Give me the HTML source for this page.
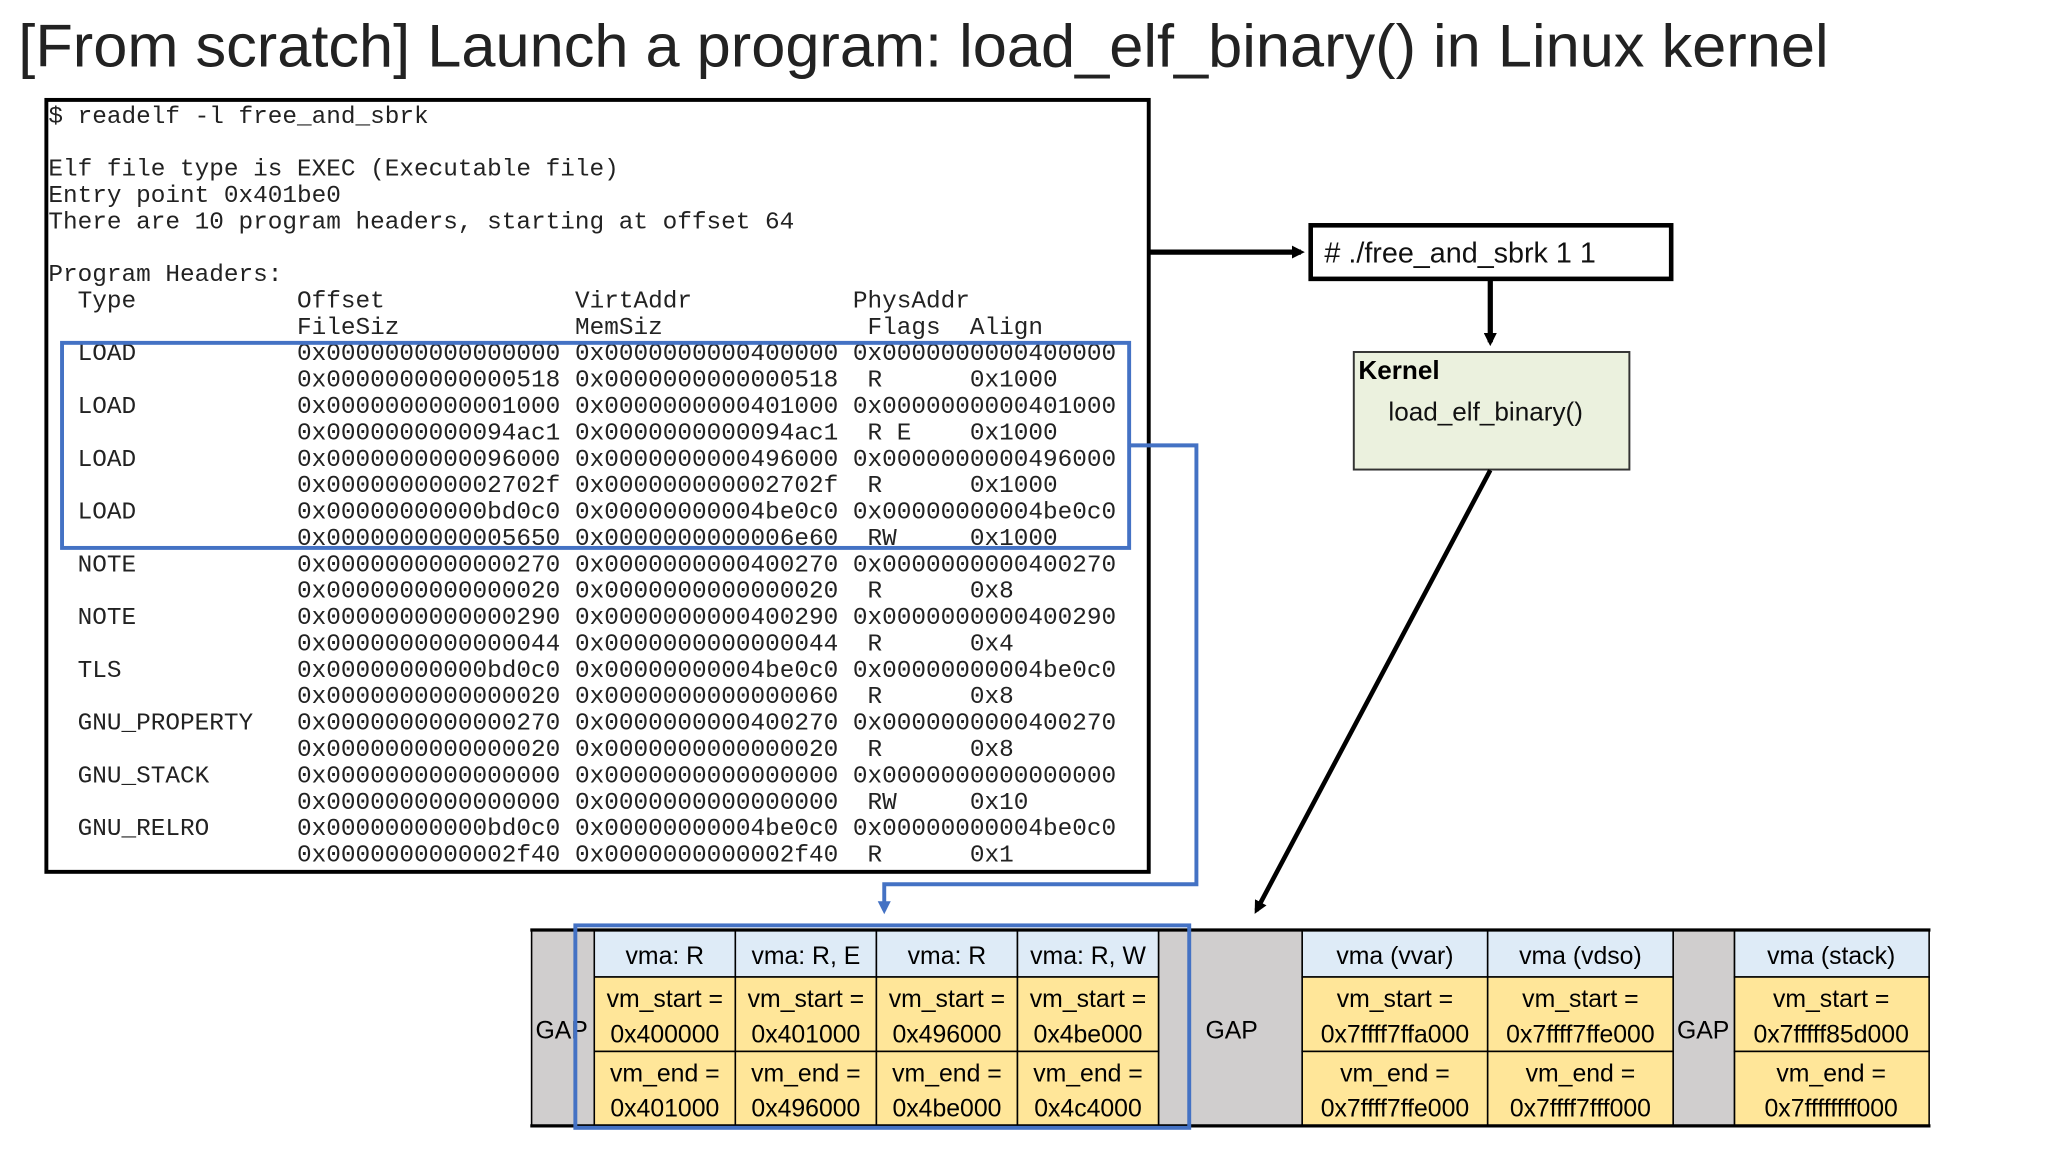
<!DOCTYPE html>
<html><head><meta charset="utf-8"><style>
html,body{margin:0;padding:0;background:#fff;}
svg{display:block;}
.m{font-family:"Liberation Mono",monospace;font-size:18.67px;fill:#222;}
.s{font-family:"Liberation Sans",sans-serif;}
.c{font-family:"Liberation Sans",sans-serif;font-size:19px;fill:#000;text-anchor:middle;}
</style></head><body>
<svg width="2048" height="1152" viewBox="0 0 1568 882" xmlns="http://www.w3.org/2000/svg">
<defs>
<marker id="ab" markerWidth="10" markerHeight="10" refX="7" refY="5" orient="auto" markerUnits="userSpaceOnUse" viewBox="0 0 10 10"><path d="M0,0 L10,5 L0,10 z" fill="#000"/></marker>
<marker id="abl" markerWidth="10" markerHeight="10" refX="7" refY="5" orient="auto" markerUnits="userSpaceOnUse" viewBox="0 0 10 10"><path d="M0,0 L10,5 L0,10 z" fill="#4472C4"/></marker>
</defs>
<text x="14" y="51" class="s" font-size="46" fill="#222" textLength="1386" lengthAdjust="spacingAndGlyphs">[From scratch] Launch a program: load_elf_binary() in Linux kernel</text>

<rect x="35.5" y="76.5" width="844" height="591" fill="#fff" stroke="#000" stroke-width="3"/>
<g class="m">
<text x="37" y="94">$ readelf -l free_and_sbrk</text>
<text x="37" y="134.4">Elf file type is EXEC (Executable file)</text>
<text x="37" y="154.6">Entry point 0x401be0</text>
<text x="37" y="174.8">There are 10 program headers, starting at offset 64</text>
<text x="37" y="215.2">Program Headers:</text>
<text x="59.4" y="235.4">Type</text><text x="227.4" y="235.4">Offset</text><text x="440.2" y="235.4">VirtAddr</text><text x="653" y="235.4">PhysAddr</text>
<text x="227.4" y="255.6">FileSiz</text><text x="440.2" y="255.6">MemSiz</text><text x="664.2" y="255.6">Flags</text><text x="742.6" y="255.6">Align</text>

<text x="59.4" y="275.8">LOAD</text><text x="227.4" y="275.8">0x0000000000000000</text><text x="440.2" y="275.8">0x0000000000400000</text><text x="653" y="275.8">0x0000000000400000</text>
<text x="227.4" y="296">0x0000000000000518</text><text x="440.2" y="296">0x0000000000000518</text><text x="664.2" y="296">R</text><text x="742.6" y="296">0x1000</text>
<text x="59.4" y="316.2">LOAD</text><text x="227.4" y="316.2">0x0000000000001000</text><text x="440.2" y="316.2">0x0000000000401000</text><text x="653" y="316.2">0x0000000000401000</text>
<text x="227.4" y="336.4">0x0000000000094ac1</text><text x="440.2" y="336.4">0x0000000000094ac1</text><text x="664.2" y="336.4">R E</text><text x="742.6" y="336.4">0x1000</text>
<text x="59.4" y="356.6">LOAD</text><text x="227.4" y="356.6">0x0000000000096000</text><text x="440.2" y="356.6">0x0000000000496000</text><text x="653" y="356.6">0x0000000000496000</text>
<text x="227.4" y="376.8">0x000000000002702f</text><text x="440.2" y="376.8">0x000000000002702f</text><text x="664.2" y="376.8">R</text><text x="742.6" y="376.8">0x1000</text>
<text x="59.4" y="397">LOAD</text><text x="227.4" y="397">0x00000000000bd0c0</text><text x="440.2" y="397">0x00000000004be0c0</text><text x="653" y="397">0x00000000004be0c0</text>
<text x="227.4" y="417.2">0x0000000000005650</text><text x="440.2" y="417.2">0x0000000000006e60</text><text x="664.2" y="417.2">RW</text><text x="742.6" y="417.2">0x1000</text>
<text x="59.4" y="437.4">NOTE</text><text x="227.4" y="437.4">0x0000000000000270</text><text x="440.2" y="437.4">0x0000000000400270</text><text x="653" y="437.4">0x0000000000400270</text>
<text x="227.4" y="457.6">0x0000000000000020</text><text x="440.2" y="457.6">0x0000000000000020</text><text x="664.2" y="457.6">R</text><text x="742.6" y="457.6">0x8</text>
<text x="59.4" y="477.8">NOTE</text><text x="227.4" y="477.8">0x0000000000000290</text><text x="440.2" y="477.8">0x0000000000400290</text><text x="653" y="477.8">0x0000000000400290</text>
<text x="227.4" y="498">0x0000000000000044</text><text x="440.2" y="498">0x0000000000000044</text><text x="664.2" y="498">R</text><text x="742.6" y="498">0x4</text>
<text x="59.4" y="518.2">TLS</text><text x="227.4" y="518.2">0x00000000000bd0c0</text><text x="440.2" y="518.2">0x00000000004be0c0</text><text x="653" y="518.2">0x00000000004be0c0</text>
<text x="227.4" y="538.4">0x0000000000000020</text><text x="440.2" y="538.4">0x0000000000000060</text><text x="664.2" y="538.4">R</text><text x="742.6" y="538.4">0x8</text>
<text x="59.4" y="558.6">GNU_PROPERTY</text><text x="227.4" y="558.6">0x0000000000000270</text><text x="440.2" y="558.6">0x0000000000400270</text><text x="653" y="558.6">0x0000000000400270</text>
<text x="227.4" y="578.8">0x0000000000000020</text><text x="440.2" y="578.8">0x0000000000000020</text><text x="664.2" y="578.8">R</text><text x="742.6" y="578.8">0x8</text>
<text x="59.4" y="599">GNU_STACK</text><text x="227.4" y="599">0x0000000000000000</text><text x="440.2" y="599">0x0000000000000000</text><text x="653" y="599">0x0000000000000000</text>
<text x="227.4" y="619.2">0x0000000000000000</text><text x="440.2" y="619.2">0x0000000000000000</text><text x="664.2" y="619.2">RW</text><text x="742.6" y="619.2">0x10</text>
<text x="59.4" y="639.4">GNU_RELRO</text><text x="227.4" y="639.4">0x00000000000bd0c0</text><text x="440.2" y="639.4">0x00000000004be0c0</text><text x="653" y="639.4">0x00000000004be0c0</text>
<text x="227.4" y="659.6">0x0000000000002f40</text><text x="440.2" y="659.6">0x0000000000002f40</text><text x="664.2" y="659.6">R</text><text x="742.6" y="659.6">0x1</text>
</g>
<rect x="47.5" y="262.5" width="817" height="157" fill="none" stroke="#4472C4" stroke-width="3"/>
<polyline points="865,341 916,341 916,677 677,677 677,697" fill="none" stroke="#4472C4" stroke-width="3" marker-end="url(#abl)"/>

<line x1="880" y1="193" x2="996" y2="193" stroke="#000" stroke-width="4" marker-end="url(#ab)"/>
<rect x="1003.5" y="172.5" width="276" height="41" fill="#fff" stroke="#000" stroke-width="3.5"/>
<text x="1014" y="201" class="s" font-size="22" fill="#111">#  ./free_and_sbrk 1 1</text>
<line x1="1141" y1="214" x2="1141" y2="262" stroke="#000" stroke-width="4" marker-end="url(#ab)"/>
<rect x="1036.5" y="269.5" width="211" height="90" fill="#EBF1DE" stroke="#333" stroke-width="1.5"/>
<text x="1040" y="290" class="s" font-size="20" font-weight="bold" fill="#000">Kernel</text>
<text x="1063" y="322" class="s" font-size="20" fill="#111">load_elf_binary()</text>
<line x1="1141" y1="360" x2="962" y2="697" stroke="#000" stroke-width="3.5" marker-end="url(#ab)"/>

<g stroke="#000" stroke-width="1.2">
<rect x="407" y="712" width="48" height="150" fill="#D0CECE"/>
<rect x="887" y="712" width="110" height="150" fill="#D0CECE"/>
<rect x="1281" y="712" width="47" height="150" fill="#D0CECE"/>
<rect x="455" y="712" width="108" height="36" fill="#DEEBF7"/>
<rect x="563" y="712" width="108" height="36" fill="#DEEBF7"/>
<rect x="671" y="712" width="108" height="36" fill="#DEEBF7"/>
<rect x="779" y="712" width="108" height="36" fill="#DEEBF7"/>
<rect x="997" y="712" width="142" height="36" fill="#DEEBF7"/>
<rect x="1139" y="712" width="142" height="36" fill="#DEEBF7"/>
<rect x="1328" y="712" width="149" height="36" fill="#DEEBF7"/>
<rect x="455" y="748" width="108" height="57" fill="#FFE699"/>
<rect x="563" y="748" width="108" height="57" fill="#FFE699"/>
<rect x="671" y="748" width="108" height="57" fill="#FFE699"/>
<rect x="779" y="748" width="108" height="57" fill="#FFE699"/>
<rect x="997" y="748" width="142" height="57" fill="#FFE699"/>
<rect x="1139" y="748" width="142" height="57" fill="#FFE699"/>
<rect x="1328" y="748" width="149" height="57" fill="#FFE699"/>
<rect x="455" y="805" width="108" height="57" fill="#FFE699"/>
<rect x="563" y="805" width="108" height="57" fill="#FFE699"/>
<rect x="671" y="805" width="108" height="57" fill="#FFE699"/>
<rect x="779" y="805" width="108" height="57" fill="#FFE699"/>
<rect x="997" y="805" width="142" height="57" fill="#FFE699"/>
<rect x="1139" y="805" width="142" height="57" fill="#FFE699"/>
<rect x="1328" y="805" width="149" height="57" fill="#FFE699"/>
</g>
<line x1="406" y1="712" x2="1478" y2="712" stroke="#000" stroke-width="2.5"/>
<line x1="406" y1="862" x2="1478" y2="862" stroke="#000" stroke-width="2.5"/>
<g class="c">
<text x="430" y="795">GAP</text>
<text x="943" y="795">GAP</text>
<text x="1304" y="795">GAP</text>
<text x="509" y="738">vma: R</text>
<text x="617" y="738">vma: R, E</text>
<text x="725" y="738">vma: R</text>
<text x="833" y="738">vma: R, W</text>
<text x="1068" y="738">vma (vvar)</text>
<text x="1210" y="738">vma (vdso)</text>
<text x="1402" y="738">vma (stack)</text>
<text x="509" y="771">vm_start =</text><text x="509" y="798">0x400000</text>
<text x="617" y="771">vm_start =</text><text x="617" y="798">0x401000</text>
<text x="725" y="771">vm_start =</text><text x="725" y="798">0x496000</text>
<text x="833" y="771">vm_start =</text><text x="833" y="798">0x4be000</text>
<text x="1068" y="771">vm_start =</text><text x="1068" y="798">0x7ffff7ffa000</text>
<text x="1210" y="771">vm_start =</text><text x="1210" y="798">0x7ffff7ffe000</text>
<text x="1402" y="771">vm_start =</text><text x="1402" y="798">0x7fffff85d000</text>
<text x="509" y="828">vm_end =</text><text x="509" y="855">0x401000</text>
<text x="617" y="828">vm_end =</text><text x="617" y="855">0x496000</text>
<text x="725" y="828">vm_end =</text><text x="725" y="855">0x4be000</text>
<text x="833" y="828">vm_end =</text><text x="833" y="855">0x4c4000</text>
<text x="1068" y="828">vm_end =</text><text x="1068" y="855">0x7ffff7ffe000</text>
<text x="1210" y="828">vm_end =</text><text x="1210" y="855">0x7ffff7fff000</text>
<text x="1402" y="828">vm_end =</text><text x="1402" y="855">0x7ffffffff000</text>
</g>
<rect x="440.5" y="708.5" width="470" height="155" fill="none" stroke="#4472C4" stroke-width="3"/>
</svg>
</body></html>
